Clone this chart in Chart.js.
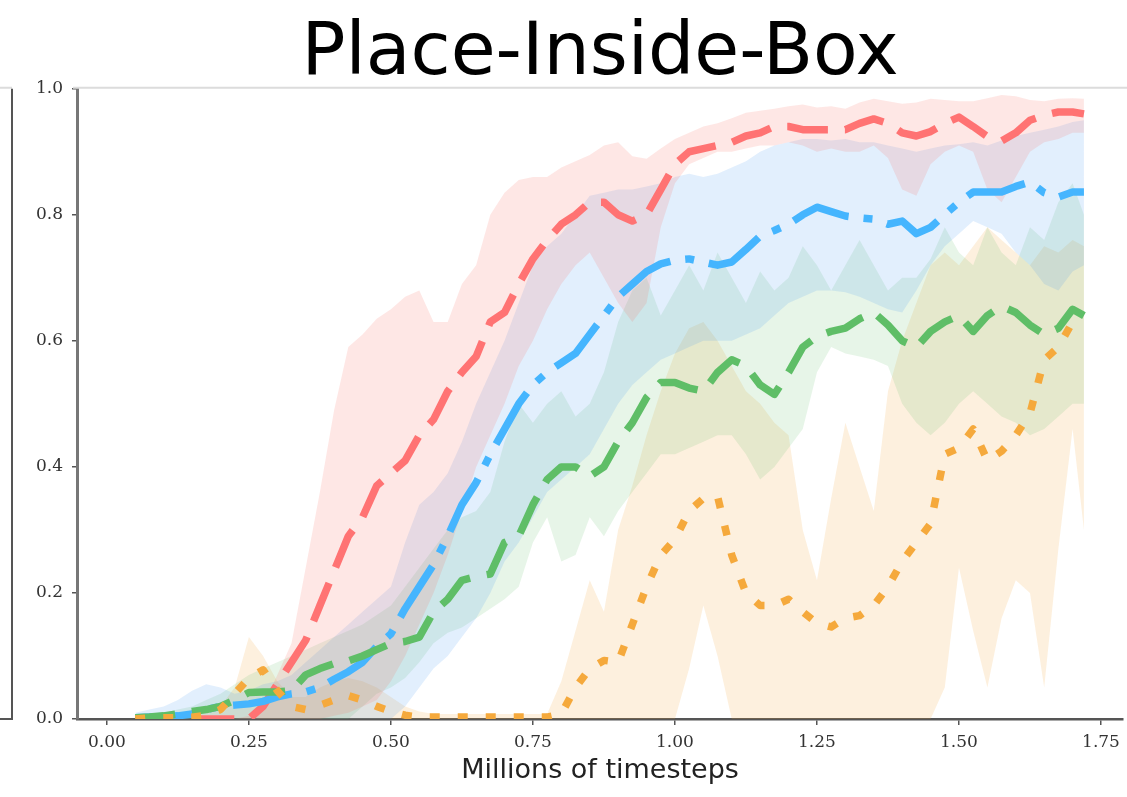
<!DOCTYPE html>
<html>
<head>
<meta charset="utf-8">
<title>Place-Inside-Box</title>
<script src="https://cdn.jsdelivr.net/npm/chart.js@4.4.1/dist/chart.umd.min.js"></script>
<style>
  html, body { margin: 0; padding: 0; background: #fff; }
  #wrap { width: 1127px; height: 797px; }
</style>
</head>
<body>
<div id="wrap"><canvas id="myChart" width="1127" height="797"></canvas></div>
<script>
// x positions (millions of timesteps)
const steps = [0.05,0.075,0.1,0.125,0.15,0.175,0.2,0.225,0.25,0.275,
  0.3,0.325,0.35,0.375,0.4,0.425,0.45,0.475,0.5,0.525,
  0.55,0.575,0.6,0.625,0.65,0.675,0.7,0.725,0.75,0.775,
  0.8,0.825,0.85,0.875,0.9,0.925,0.95,0.975,1.0,1.025,
  1.05,1.075,1.1,1.125,1.15,1.175,1.2,1.225,1.25,1.275,
  1.3,1.325,1.35,1.375,1.4,1.425,1.45,1.475,1.5,1.525,
  1.55,1.575,1.6,1.625,1.65,1.675,1.7,1.72];

// red, long dashes
const redMean = [0,0,0,0,0,0,0,0,0,0.02,
  0.055,0.09,0.125,0.18,0.235,0.29,0.32,0.37,0.39,0.41,
  0.45,0.475,0.52,0.55,0.575,0.63,0.645,0.69,0.73,0.76,
  0.785,0.8,0.82,0.82,0.8,0.79,0.8,0.84,0.88,0.9,
  0.905,0.91,0.915,0.925,0.93,0.94,0.94,0.935,0.935,0.935,
  0.935,0.945,0.952,0.945,0.93,0.925,0.932,0.945,0.955,0.94,
  0.924,0.917,0.93,0.95,0.958,0.963,0.963,0.96];
const redLow = [0,0,0,0,0,0,0,0,0,0,
  0,0,0,0,0.005,0.01,0.02,0.03,0.06,0.1,
  0.15,0.2,0.26,0.33,0.4,0.45,0.5,0.56,0.6,0.65,
  0.69,0.72,0.74,0.7,0.66,0.63,0.66,0.78,0.85,0.88,
  0.89,0.9,0.9,0.905,0.91,0.91,0.915,0.91,0.9,0.905,
  0.9,0.9,0.91,0.89,0.84,0.83,0.88,0.9,0.91,0.9,
  0.84,0.82,0.86,0.9,0.915,0.92,0.93,0.93];
const redHigh = [0,0,0,0,0,0,0,0,0.005,0.02,
  0.07,0.12,0.24,0.36,0.49,0.59,0.61,0.635,0.65,0.67,
  0.68,0.63,0.63,0.69,0.72,0.8,0.835,0.855,0.86,0.86,
  0.875,0.885,0.895,0.91,0.915,0.893,0.889,0.905,0.92,0.93,
  0.94,0.945,0.953,0.962,0.965,0.968,0.972,0.975,0.97,0.972,
  0.968,0.978,0.984,0.98,0.976,0.978,0.984,0.982,0.98,0.98,
  0.985,0.99,0.988,0.982,0.98,0.984,0.985,0.984];

// blue, dash-dot
const blueMean = [0.002,0.003,0.004,0.005,0.008,0.015,0.02,0.022,0.024,0.028,
  0.035,0.04,0.043,0.05,0.063,0.075,0.09,0.115,0.135,0.175,
  0.21,0.245,0.29,0.34,0.375,0.42,0.46,0.5,0.53,0.55,
  0.565,0.58,0.61,0.64,0.67,0.69,0.71,0.722,0.728,0.73,
  0.725,0.72,0.725,0.745,0.766,0.775,0.785,0.8,0.812,0.805,
  0.798,0.795,0.793,0.785,0.79,0.77,0.78,0.8,0.82,0.836,
  0.836,0.836,0.845,0.852,0.835,0.828,0.836,0.836];
const blueLow = [0,0,0,0,0,0,0,0,0,0,
  0,0,0,0,0,0,0,0,0,0.02,
  0.05,0.08,0.1,0.13,0.16,0.2,0.25,0.28,0.32,0.36,
  0.38,0.4,0.42,0.46,0.5,0.53,0.55,0.57,0.58,0.59,
  0.6,0.6,0.6,0.61,0.62,0.64,0.66,0.67,0.68,0.68,
  0.677,0.67,0.66,0.65,0.645,0.68,0.72,0.75,0.77,0.79,
  0.78,0.77,0.74,0.72,0.69,0.68,0.71,0.72];
const blueHigh = [0.01,0.015,0.02,0.03,0.045,0.055,0.05,0.04,0.045,0.055,
  0.06,0.07,0.09,0.11,0.13,0.15,0.17,0.19,0.21,0.28,
  0.34,0.36,0.39,0.44,0.5,0.55,0.6,0.66,0.72,0.75,
  0.77,0.8,0.83,0.835,0.84,0.84,0.845,0.85,0.86,0.865,
  0.86,0.865,0.875,0.885,0.9,0.91,0.915,0.92,0.92,0.918,
  0.92,0.915,0.915,0.91,0.905,0.9,0.905,0.91,0.912,0.915,
  0.91,0.918,0.925,0.93,0.935,0.94,0.947,0.95];

// green, dashes
const greenMean = [0.002,0.003,0.005,0.008,0.012,0.015,0.02,0.03,0.042,0.043,
  0.043,0.045,0.07,0.08,0.088,0.092,0.1,0.11,0.12,0.123,
  0.13,0.17,0.19,0.22,0.226,0.23,0.28,0.29,0.34,0.38,
  0.4,0.4,0.385,0.4,0.44,0.47,0.51,0.534,0.534,0.525,
  0.52,0.55,0.57,0.56,0.53,0.515,0.55,0.59,0.607,0.615,
  0.62,0.635,0.645,0.625,0.6,0.59,0.615,0.63,0.64,0.615,
  0.64,0.655,0.645,0.625,0.61,0.62,0.65,0.64];
const greenLow = [0,0,0,0,0,0,0,0,0,0,
  0,0,0,0,0,0,0.02,0.04,0.05,0.065,
  0.09,0.12,0.137,0.145,0.16,0.175,0.19,0.21,0.28,0.32,
  0.25,0.26,0.32,0.29,0.33,0.36,0.39,0.42,0.42,0.43,
  0.44,0.45,0.45,0.42,0.38,0.4,0.43,0.46,0.55,0.59,
  0.58,0.575,0.57,0.56,0.5,0.47,0.45,0.47,0.5,0.52,
  0.5,0.48,0.47,0.45,0.46,0.48,0.5,0.5];
const greenHigh = [0.005,0.008,0.01,0.015,0.02,0.03,0.04,0.055,0.07,0.08,
  0.09,0.1,0.11,0.12,0.13,0.14,0.15,0.165,0.18,0.21,
  0.24,0.27,0.3,0.32,0.33,0.36,0.44,0.5,0.47,0.5,
  0.52,0.48,0.5,0.55,0.63,0.68,0.7,0.64,0.68,0.72,
  0.68,0.74,0.7,0.66,0.71,0.68,0.7,0.75,0.72,0.68,
  0.72,0.76,0.72,0.68,0.7,0.7,0.73,0.78,0.74,0.72,
  0.78,0.74,0.72,0.78,0.76,0.82,0.85,0.8];

// orange, dotted
const orangeMean = [0,0.002,0.002,0.002,0.003,0.006,0.015,0.04,0.065,0.078,
  0.045,0.02,0.015,0.022,0.03,0.037,0.03,0.02,0.012,0.006,
  0.003,0.003,0.003,0.003,0.003,0.003,0.003,0.003,0.003,0.003,
  0.008,0.05,0.08,0.093,0.09,0.15,0.21,0.26,0.285,0.33,
  0.35,0.353,0.26,0.2,0.18,0.18,0.19,0.17,0.152,0.146,
  0.16,0.164,0.18,0.21,0.25,0.28,0.31,0.42,0.43,0.46,
  0.41,0.425,0.45,0.485,0.57,0.59,0.63,0.635];
const orangeLow = [0,0,0,0,0,0,0,0,0,0,
  0,0,0,0,0,0,0,0,0,0,
  0,0,0,0,0,0,0,0,0,0,
  0,0,0,0,0,0,0,0,0,0.08,
  0.18,0.1,0,0,0,0,0,0,0,0,
  0,0,0,0,0,0,0,0.05,0.24,0.14,
  0.05,0.16,0.22,0.2,0.05,0.27,0.46,0.3];
const orangeHigh = [0.002,0.003,0.004,0.006,0.008,0.012,0.02,0.05,0.13,0.1,
  0.06,0.035,0.035,0.05,0.06,0.065,0.06,0.05,0.035,0.02,
  0.012,0.008,0.008,0.008,0.008,0.008,0.008,0.008,0.008,0.008,
  0.06,0.14,0.22,0.17,0.3,0.37,0.45,0.52,0.58,0.62,
  0.63,0.6,0.56,0.52,0.5,0.47,0.45,0.3,0.22,0.35,
  0.47,0.4,0.33,0.52,0.6,0.66,0.72,0.74,0.72,0.75,
  0.78,0.76,0.74,0.72,0.75,0.74,0.76,0.75];

const xTicks = [0, 0.25, 0.5, 0.75, 1.0, 1.25, 1.5, 1.75];
const yTicks = [0, 0.2, 0.4, 0.6, 0.8, 1.0];

const toPoints = arr => arr.map((v, i) => ({x: steps[i], y: v}));

// shaded range = upper dataset filled down to the lower one
const band = (high, low, color) => [
  { data: toPoints(high), fill: '+1', backgroundColor: color, borderWidth: 0, pointRadius: 0, order: 10 },
  { data: toPoints(low), fill: false, borderWidth: 0, pointRadius: 0, order: 10 }
];

const line = (mean, color, dash, order) => ({
  data: toPoints(mean), borderColor: color, borderWidth: 7.5, borderDash: dash,
  borderCapStyle: 'butt', borderJoinStyle: 'round', fill: false, pointRadius: 0, tension: 0, order: order
});

const datasets = [
  ...band(redHigh, redLow, 'rgba(250,110,100,0.17)'),
  ...band(blueHigh, blueLow, 'rgba(60,150,240,0.15)'),
  ...band(greenHigh, greenLow, 'rgba(95,190,100,0.15)'),
  ...band(orangeHigh, orangeLow, 'rgba(245,168,60,0.17)'),
  line(redMean, '#ff7373', [41, 17], 4),
  line(blueMean, '#45b5fe', [60, 15, 9, 15], 3),
  line(greenMean, '#5fbe67', [40, 17], 2),
  line(orangeMean, '#f5a93c', [10, 18], 1)
];

// white page, light top spine and the edge of the neighbouring panel
const frameLines = {
  id: 'frameLines',
  beforeDraw(chart) {
    const ctx = chart.ctx;
    ctx.save();
    ctx.fillStyle = '#fff';
    ctx.fillRect(0, 0, chart.width, chart.height);
    ctx.restore();
  },
  afterDraw(chart) {
    const {ctx, chartArea: a} = chart;
    ctx.save();
    ctx.strokeStyle = '#dcdcdc';
    ctx.lineWidth = 2;
    ctx.beginPath();
    ctx.moveTo(a.left - 4, a.top - 1);
    ctx.lineTo(chart.width, a.top - 1);
    ctx.moveTo(0, a.top - 1);
    ctx.lineTo(12, a.top - 1);
    ctx.stroke();
    ctx.strokeStyle = '#555';
    ctx.beginPath();
    ctx.moveTo(12, a.top);
    ctx.lineTo(12, a.bottom);
    ctx.lineTo(0, a.bottom);
    ctx.stroke();
    ctx.restore();
  }
};

const tickFont = { family: 'DejaVu Serif', size: 17 };

const config = {
  type: 'line',
  data: { datasets: datasets },
  options: {
    responsive: false,
    animation: false,
    events: [],
    layout: { padding: 0 },
    plugins: {
      legend: { display: false },
      tooltip: { enabled: false },
      filler: { drawTime: 'beforeDatasetsDraw' },
      title: {
        display: true,
        text: 'Place-Inside-Box',
        fullSize: false,
        color: '#000',
        font: { family: 'DejaVu Sans', size: 73, weight: 'normal', lineHeight: 0.9 },
        padding: { top: 22, bottom: 1 }
      }
    },
    scales: {
      x: {
        type: 'linear',
        min: -0.0526,
        max: 1.789,
        afterBuildTicks: s => { s.ticks = xTicks.map(v => ({ value: v })); },
        afterFit: s => { s.height = 78; },
        ticks: { callback: v => v.toFixed(2), font: tickFont, color: '#333', padding: 7, maxRotation: 0, autoSkip: false },
        grid: { drawOnChartArea: false, drawTicks: true, tickLength: 6, color: '#555', lineWidth: 1.5 },
        border: { display: true, color: '#555', width: 2.5 },
        title: {
          display: true,
          text: 'Millions of timesteps',
          color: '#222',
          font: { family: 'DejaVu Sans', size: 27, weight: 'normal' },
          padding: { top: 0, bottom: 10 }
        }
      },
      y: {
        type: 'linear',
        min: 0,
        max: 1,
        afterBuildTicks: s => { s.ticks = yTicks.map(v => ({ value: v })); },
        afterFit: s => { s.width = 77; },
        ticks: { callback: v => v.toFixed(1), font: tickFont, color: '#333', padding: 9 },
        grid: { drawOnChartArea: false, drawTicks: true, tickLength: 5, color: '#555', lineWidth: 1.5 },
        border: { display: true, color: '#777', width: 3 }
      }
    }
  },
  plugins: [frameLines]
};

const myChart = new Chart(document.getElementById('myChart'), config);
</script>
</body>
</html>
